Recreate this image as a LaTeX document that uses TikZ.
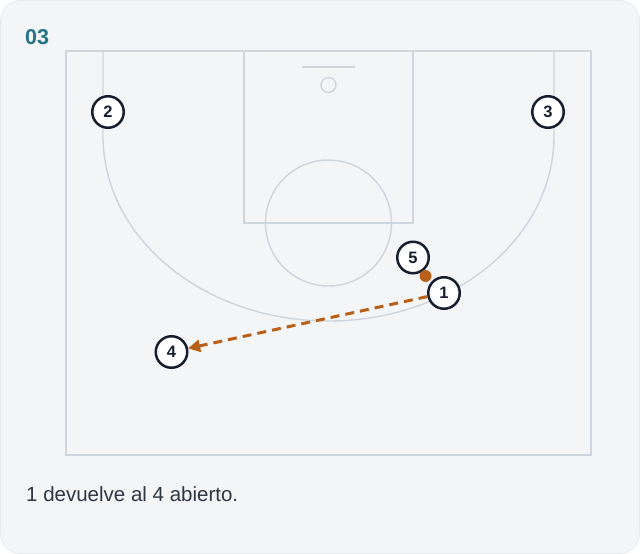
\documentclass[tikz,border=0pt]{standalone}
\usepackage{fontspec}
\setmainfont{Liberation Sans}
\usetikzlibrary{arrows.meta}
\definecolor{cardbg}{RGB}{243,245,247}
\definecolor{cardedge}{RGB}{232,235,238}
\definecolor{courtline}{RGB}{206,213,220}
\definecolor{navy}{RGB}{22,30,48}
\definecolor{passc}{RGB}{184,96,26}
\definecolor{titlec}{RGB}{36,116,134}
\definecolor{capc}{RGB}{48,55,66}
\tikzset{
  court/.style={draw=courtline, line width=1.4pt},
  player/.style={circle, draw=navy, fill=white, line width=2.5pt, minimum size=31.5pt, inner sep=0pt,
     font=\fontsize{16.5}{16.5}\selectfont\bfseries, text=navy},
  ballc/.style={circle, fill=passc, minimum size=12pt, inner sep=0pt},
  pass/.style={draw=passc, line width=3pt, dash pattern=on 9pt off 6pt,
     -{Triangle[length=12pt,width=12pt]}},
}
\begin{document}
\begin{tikzpicture}[x=1pt,y=-1pt]
\useasboundingbox (0,0) rectangle (640,554);
\fill[white] (0,0) rectangle (640,554);
\draw[fill=cardbg, draw=cardedge, line width=0.8pt, rounded corners=20pt] (0.5,0.5) rectangle (639.5,553.5);
% court
\draw[court] (66,51) rectangle (591,455);
\draw[court] (244,51) rectangle (413,223);
\draw[court] (302,67) -- (355,67);
\draw[court] (328.5,85) circle (7.5);
\draw[court] (328.5,223) circle (63);
\draw[court] (103,51) -- (103,136) arc[start angle=180, end angle=360, x radius=225.5, y radius=-185] -- (554,51);
% title
\node[anchor=base west, inner sep=0pt, text=titlec, font=\fontsize{21.5}{21.5}\selectfont\bfseries] (title) at (25,44) {03};
% players
\node[player] (p2) at (108,112) {2};
\node[player] (p3) at (548,112) {3};
\node[player] (p5) at (413,257.5) {5};
\node[player] (p1) at (444,293) {1};
\node[player] (p4) at (171.5,352) {4};
\node[ballc] (ball) at (425.5,276) {};
\draw[pass] (p1) -- (p4);
% caption
\node[anchor=base west, inner sep=0pt, text=capc, font=\fontsize{20.5}{20.5}\selectfont] (cap) at (26,501) {1 devuelve al 4 abierto.};
\end{tikzpicture}
\end{document}
